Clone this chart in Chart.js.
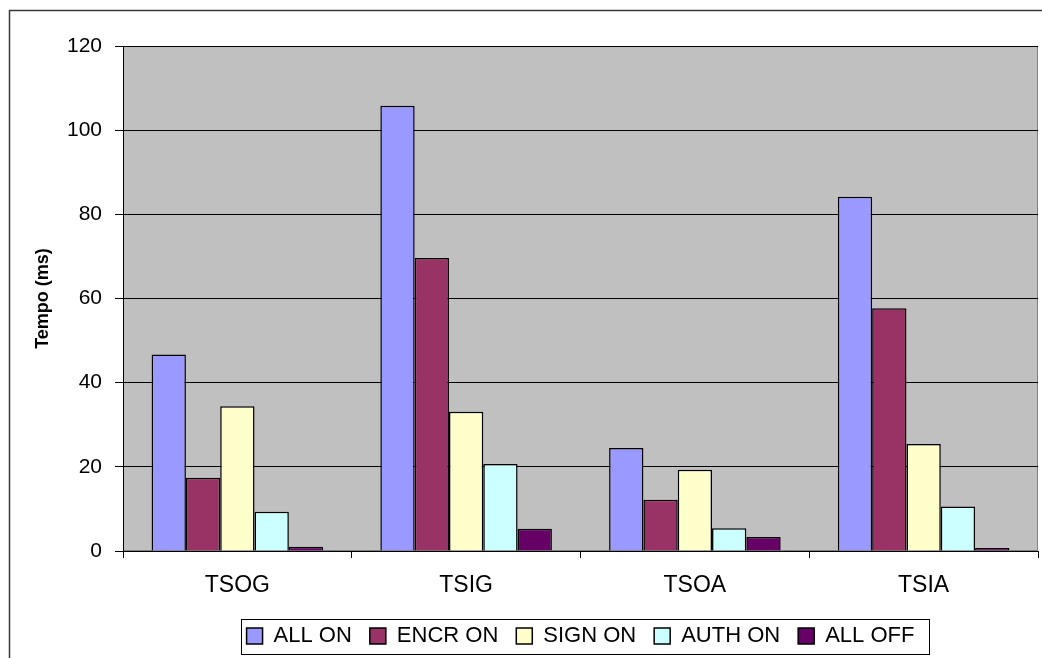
<!DOCTYPE html>
<html>
<head>
<meta charset="utf-8">
<script src="https://cdn.jsdelivr.net/npm/chart.js@4/dist/chart.umd.min.js"></script>
<style>
  html, body { margin: 0; padding: 0; background: #ffffff; }
  #wrap { width: 1042px; height: 658px; }
</style>
</head>
<body>
<div id="wrap"><canvas id="chart" width="1042" height="658"></canvas></div>
<script>
// Test cases on the x axis
const categories = ['TSOG', 'TSIG', 'TSOA', 'TSIA'];

// Measured times (ms) per security configuration
const allOn  = [46.7, 105.8, 24.5, 84.2];
const encrOn = [17.4, 69.6, 12.2, 57.7];
const signOn = [34.4, 33.1, 19.3, 25.4];
const authOn = [9.3, 20.7, 5.4, 10.6];
const allOff = [1.0, 5.3, 3.3, 0.7];

const seriesNames = ['ALL ON', 'ENCR ON', 'SIGN ON', 'AUTH ON', 'ALL OFF'];
const seriesColors = ['#9999FF', '#993366', '#FFFFCC', '#CCFFFF', '#660066'];
const seriesValues = [allOn, encrOn, signOn, authOn, allOff];

const yTicks = [0, 20, 40, 60, 80, 100, 120];

const FONT = '"Liberation Sans", Arial, sans-serif';

// Grey plot background with a thin frame, plus the outer chart frame
const frames = {
  id: 'frames',
  beforeDraw(chart) {
    const { ctx, chartArea: a } = chart;
    ctx.save();
    ctx.fillStyle = '#C0C0C0';
    ctx.fillRect(a.left, a.top, a.right - a.left, a.bottom - a.top);
    ctx.strokeStyle = '#808080';
    ctx.lineWidth = 1;
    ctx.strokeRect(a.left + 0.5, a.top + 0.5, a.right - a.left - 1, a.bottom - a.top - 1);
    ctx.restore();
  },
  afterDraw(chart) {
    const ctx = chart.ctx;
    ctx.save();
    // outer chart border
    ctx.strokeStyle = '#3a3a3a';
    ctx.lineWidth = 1.5;
    ctx.strokeRect(9.5, 10.5, 1100, 700);
    // legend frame
    const boxes = chart.legend.legendHitBoxes;
    if (boxes && boxes.length) {
      const first = boxes[0];
      const last = boxes[boxes.length - 1];
      const cy = first.top + first.height / 2;
      const left = first.left - 6;
      const right = last.left + last.width + 14;
      ctx.strokeStyle = '#000000';
      ctx.lineWidth = 1;
      ctx.strokeRect(Math.round(left) + 0.5, Math.round(cy - 17.5) + 0.5,
                     Math.round(right - left), 35);
    }
    ctx.restore();
  }
};

new Chart(document.getElementById('chart'), {
  type: 'bar',
  data: {
    labels: categories,
    datasets: seriesNames.map((name, i) => ({
      label: name,
      data: seriesValues[i],
      backgroundColor: seriesColors[i],
      borderColor: '#000000',
      borderWidth: 1.5,
      categoryPercentage: 0.75,
      barPercentage: 1.0
    }))
  },
  options: {
    responsive: false,
    animation: false,
    devicePixelRatio: 1,
    layout: { padding: { top: 46, left: 0, right: 4, bottom: 1 } },
    plugins: {
      tooltip: { enabled: false },
      legend: {
        position: 'bottom',
        fullSize: false,
        labels: {
          color: '#000000',
          font: { family: FONT, size: 22 },
          boxWidth: 16,
          boxHeight: 16,
          padding: 18
        }
      }
    },
    scales: {
      x: {
        grid: {
          offset: true,
          drawOnChartArea: false,
          drawTicks: true,
          tickLength: 7,
          color: '#000000'
        },
        border: { color: '#000000', width: 1 },
        ticks: {
          color: '#000000',
          font: { family: FONT, size: 23 },
          padding: 14,
          maxRotation: 0
        },
        afterFit(scale) { scale.height = 56; }
      },
      y: {
        min: 0,
        max: 120,
        afterBuildTicks(scale) { scale.ticks = yTicks.map(v => ({ value: v })); },
        grid: {
          color: '#000000',
          lineWidth: 1,
          drawTicks: true,
          tickLength: 8
        },
        border: { color: '#000000', width: 1 },
        ticks: {
          color: '#000000',
          font: { family: FONT, size: 21 },
          padding: 13
        },
        title: {
          display: true,
          text: 'Tempo (ms)',
          color: '#000000',
          font: { family: FONT, size: 18, weight: 'bold' },
          padding: { top: 32, bottom: 0 }
        },
        afterFit(scale) { scale.width = 123; }
      }
    }
  },
  plugins: [frames]
});
</script>
</body>
</html>
